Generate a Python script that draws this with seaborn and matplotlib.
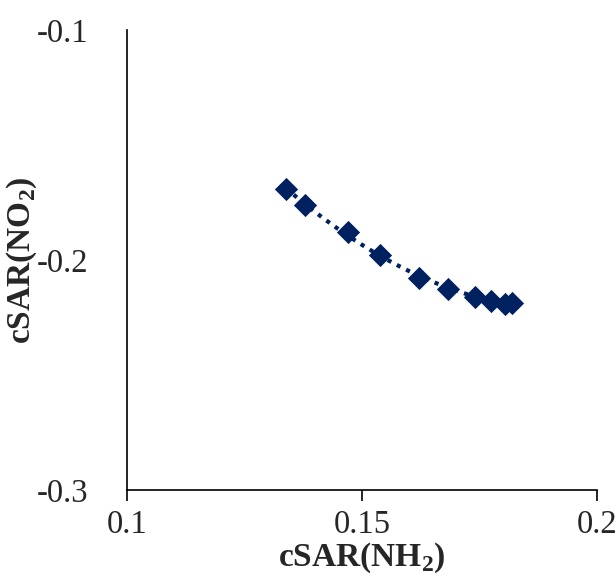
import numpy as np
import pandas as pd
import matplotlib
matplotlib.use("Agg")
import matplotlib.pyplot as plt
import seaborn as sns

sns.set_style("white")
plt.rcParams['font.family'] = ['Liberation Serif', 'DejaVu Serif']
plt.rcParams['mathtext.fontset'] = 'custom'
plt.rcParams['mathtext.rm'] = 'Liberation Serif'
plt.rcParams['mathtext.bf'] = 'Liberation Serif:bold'

csar_nh2 = [0.1338, 0.1379, 0.1470, 0.1538, 0.1621, 0.1683, 0.1740, 0.1775, 0.1804, 0.1819]
csar_no2 = [-0.1691, -0.1761, -0.1876, -0.1978, -0.2076, -0.2126, -0.2161, -0.2178, -0.2191, -0.2187]
x_ticks = [0.1, 0.15, 0.2]
x_tick_labels = ["0.1", "0.15", "0.2"]
y_ticks = [-0.1, -0.2, -0.3]
y_tick_labels = ["-0.1", "-0.2", "-0.3"]

df = pd.DataFrame({"x": csar_nh2, "y": csar_no2})
color = "#00215F"

fig = plt.figure(figsize=(6.16, 5.76), dpi=100)
ax = fig.add_axes([0.206, 0.149, 0.763, 0.799])

sns.regplot(data=df, x="x", y="y", order=2, ci=None, scatter=False, ax=ax,
            line_kws=dict(color=color, linestyle=(0, (1, 1.5)), linewidth=3.0))
sns.scatterplot(data=df, x="x", y="y", marker="D", s=140, color=color,
                edgecolor=color, linewidth=0, ax=ax, zorder=3)

ax.set_xlim(0.1, 0.2)
ax.set_ylim(-0.3, -0.1)
ax.set_xticks(x_ticks)
ax.set_xticklabels(x_tick_labels)
ax.set_yticks(y_ticks)
ax.set_yticklabels(y_tick_labels)
ax.tick_params(axis='x', direction='out', length=8, width=1.2, labelsize=23.5, pad=6, color='black', bottom=True)
ax.tick_params(axis='y', length=0, labelsize=23.5, pad=28)
for s in ['top', 'right']:
    ax.spines[s].set_visible(False)
for s in ['left', 'bottom']:
    ax.spines[s].set_color('black')
    ax.spines[s].set_linewidth(1.2)

ax.set_xlabel(r"cSAR(NH$_\mathbf{2}$)", fontsize=24, fontweight='bold', labelpad=0)
ax.set_ylabel(r"cSAR(NO$_\mathbf{2}$)", fontsize=24, fontweight='bold')
ax.yaxis.set_label_coords(-0.186, 0.5)
ax.grid(False)

fig.savefig("out.png", dpi=100)
